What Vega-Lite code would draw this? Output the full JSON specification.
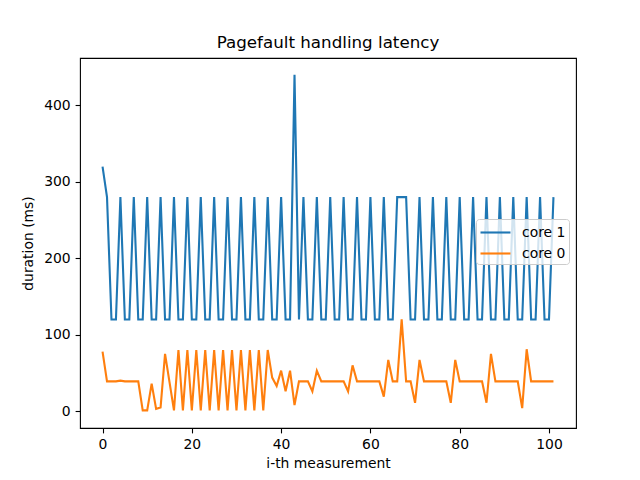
{
  "$schema": "https://vega.github.io/schema/vega-lite/v6.json",
  "description": "Pagefault handling latency per measurement, core 1 vs core 0",
  "autosize": "none",
  "width": 496,
  "height": 370,
  "padding": {"left": 80, "top": 58, "right": 64, "bottom": 52},
  "background": "white",
  "title": {
    "text": "Pagefault handling latency",
    "font": "DejaVu Sans",
    "fontSize": 16.7,
    "fontWeight": "normal",
    "color": "black",
    "anchor": "middle",
    "offset": 6
  },
  "config": {
    "view": {"stroke": "black", "strokeWidth": 1.1},
    "axis": {
      "grid": false,
      "domain": false,
      "tickColor": "black",
      "tickSize": 4.9,
      "tickWidth": 1.1,
      "labelFont": "DejaVu Sans",
      "labelFontSize": 13.9,
      "labelColor": "black",
      "labelPadding": 4.9,
      "titleFont": "DejaVu Sans",
      "titleFontSize": 13.9,
      "titleFontWeight": "normal",
      "titleColor": "black"
    }
  },
  "data": {
    "values": [
      {"i": 0, "duration": 320, "core": "core 1"},
      {"i": 1, "duration": 280, "core": "core 1"},
      {"i": 2, "duration": 120, "core": "core 1"},
      {"i": 3, "duration": 120, "core": "core 1"},
      {"i": 4, "duration": 280, "core": "core 1"},
      {"i": 5, "duration": 120, "core": "core 1"},
      {"i": 6, "duration": 120, "core": "core 1"},
      {"i": 7, "duration": 280, "core": "core 1"},
      {"i": 8, "duration": 120, "core": "core 1"},
      {"i": 9, "duration": 120, "core": "core 1"},
      {"i": 10, "duration": 280, "core": "core 1"},
      {"i": 11, "duration": 120, "core": "core 1"},
      {"i": 12, "duration": 120, "core": "core 1"},
      {"i": 13, "duration": 280, "core": "core 1"},
      {"i": 14, "duration": 120, "core": "core 1"},
      {"i": 15, "duration": 120, "core": "core 1"},
      {"i": 16, "duration": 280, "core": "core 1"},
      {"i": 17, "duration": 120, "core": "core 1"},
      {"i": 18, "duration": 120, "core": "core 1"},
      {"i": 19, "duration": 280, "core": "core 1"},
      {"i": 20, "duration": 120, "core": "core 1"},
      {"i": 21, "duration": 120, "core": "core 1"},
      {"i": 22, "duration": 280, "core": "core 1"},
      {"i": 23, "duration": 120, "core": "core 1"},
      {"i": 24, "duration": 120, "core": "core 1"},
      {"i": 25, "duration": 280, "core": "core 1"},
      {"i": 26, "duration": 120, "core": "core 1"},
      {"i": 27, "duration": 120, "core": "core 1"},
      {"i": 28, "duration": 280, "core": "core 1"},
      {"i": 29, "duration": 120, "core": "core 1"},
      {"i": 30, "duration": 120, "core": "core 1"},
      {"i": 31, "duration": 280, "core": "core 1"},
      {"i": 32, "duration": 120, "core": "core 1"},
      {"i": 33, "duration": 120, "core": "core 1"},
      {"i": 34, "duration": 280, "core": "core 1"},
      {"i": 35, "duration": 120, "core": "core 1"},
      {"i": 36, "duration": 120, "core": "core 1"},
      {"i": 37, "duration": 280, "core": "core 1"},
      {"i": 38, "duration": 120, "core": "core 1"},
      {"i": 39, "duration": 120, "core": "core 1"},
      {"i": 40, "duration": 280, "core": "core 1"},
      {"i": 41, "duration": 120, "core": "core 1"},
      {"i": 42, "duration": 120, "core": "core 1"},
      {"i": 43, "duration": 440, "core": "core 1"},
      {"i": 44, "duration": 120, "core": "core 1"},
      {"i": 45, "duration": 280, "core": "core 1"},
      {"i": 46, "duration": 120, "core": "core 1"},
      {"i": 47, "duration": 120, "core": "core 1"},
      {"i": 48, "duration": 280, "core": "core 1"},
      {"i": 49, "duration": 120, "core": "core 1"},
      {"i": 50, "duration": 120, "core": "core 1"},
      {"i": 51, "duration": 280, "core": "core 1"},
      {"i": 52, "duration": 120, "core": "core 1"},
      {"i": 53, "duration": 120, "core": "core 1"},
      {"i": 54, "duration": 280, "core": "core 1"},
      {"i": 55, "duration": 120, "core": "core 1"},
      {"i": 56, "duration": 120, "core": "core 1"},
      {"i": 57, "duration": 280, "core": "core 1"},
      {"i": 58, "duration": 120, "core": "core 1"},
      {"i": 59, "duration": 120, "core": "core 1"},
      {"i": 60, "duration": 280, "core": "core 1"},
      {"i": 61, "duration": 120, "core": "core 1"},
      {"i": 62, "duration": 120, "core": "core 1"},
      {"i": 63, "duration": 280, "core": "core 1"},
      {"i": 64, "duration": 120, "core": "core 1"},
      {"i": 65, "duration": 120, "core": "core 1"},
      {"i": 66, "duration": 280, "core": "core 1"},
      {"i": 67, "duration": 280, "core": "core 1"},
      {"i": 68, "duration": 280, "core": "core 1"},
      {"i": 69, "duration": 120, "core": "core 1"},
      {"i": 70, "duration": 120, "core": "core 1"},
      {"i": 71, "duration": 280, "core": "core 1"},
      {"i": 72, "duration": 120, "core": "core 1"},
      {"i": 73, "duration": 120, "core": "core 1"},
      {"i": 74, "duration": 280, "core": "core 1"},
      {"i": 75, "duration": 120, "core": "core 1"},
      {"i": 76, "duration": 120, "core": "core 1"},
      {"i": 77, "duration": 280, "core": "core 1"},
      {"i": 78, "duration": 120, "core": "core 1"},
      {"i": 79, "duration": 120, "core": "core 1"},
      {"i": 80, "duration": 280, "core": "core 1"},
      {"i": 81, "duration": 120, "core": "core 1"},
      {"i": 82, "duration": 120, "core": "core 1"},
      {"i": 83, "duration": 280, "core": "core 1"},
      {"i": 84, "duration": 120, "core": "core 1"},
      {"i": 85, "duration": 120, "core": "core 1"},
      {"i": 86, "duration": 280, "core": "core 1"},
      {"i": 87, "duration": 120, "core": "core 1"},
      {"i": 88, "duration": 120, "core": "core 1"},
      {"i": 89, "duration": 280, "core": "core 1"},
      {"i": 90, "duration": 120, "core": "core 1"},
      {"i": 91, "duration": 120, "core": "core 1"},
      {"i": 92, "duration": 280, "core": "core 1"},
      {"i": 93, "duration": 120, "core": "core 1"},
      {"i": 94, "duration": 120, "core": "core 1"},
      {"i": 95, "duration": 280, "core": "core 1"},
      {"i": 96, "duration": 120, "core": "core 1"},
      {"i": 97, "duration": 120, "core": "core 1"},
      {"i": 98, "duration": 280, "core": "core 1"},
      {"i": 99, "duration": 120, "core": "core 1"},
      {"i": 100, "duration": 120, "core": "core 1"},
      {"i": 101, "duration": 280, "core": "core 1"},
      {"i": 0, "duration": 78, "core": "core 0"},
      {"i": 1, "duration": 39, "core": "core 0"},
      {"i": 2, "duration": 39, "core": "core 0"},
      {"i": 3, "duration": 39, "core": "core 0"},
      {"i": 4, "duration": 40, "core": "core 0"},
      {"i": 5, "duration": 39, "core": "core 0"},
      {"i": 6, "duration": 39, "core": "core 0"},
      {"i": 7, "duration": 39, "core": "core 0"},
      {"i": 8, "duration": 39, "core": "core 0"},
      {"i": 9, "duration": 1, "core": "core 0"},
      {"i": 10, "duration": 1, "core": "core 0"},
      {"i": 11, "duration": 36, "core": "core 0"},
      {"i": 12, "duration": 3, "core": "core 0"},
      {"i": 13, "duration": 5, "core": "core 0"},
      {"i": 14, "duration": 75, "core": "core 0"},
      {"i": 15, "duration": 38, "core": "core 0"},
      {"i": 16, "duration": 1, "core": "core 0"},
      {"i": 17, "duration": 80, "core": "core 0"},
      {"i": 18, "duration": 1, "core": "core 0"},
      {"i": 19, "duration": 80, "core": "core 0"},
      {"i": 20, "duration": 1, "core": "core 0"},
      {"i": 21, "duration": 80, "core": "core 0"},
      {"i": 22, "duration": 1, "core": "core 0"},
      {"i": 23, "duration": 80, "core": "core 0"},
      {"i": 24, "duration": 1, "core": "core 0"},
      {"i": 25, "duration": 80, "core": "core 0"},
      {"i": 26, "duration": 1, "core": "core 0"},
      {"i": 27, "duration": 80, "core": "core 0"},
      {"i": 28, "duration": 1, "core": "core 0"},
      {"i": 29, "duration": 80, "core": "core 0"},
      {"i": 30, "duration": 1, "core": "core 0"},
      {"i": 31, "duration": 80, "core": "core 0"},
      {"i": 32, "duration": 1, "core": "core 0"},
      {"i": 33, "duration": 80, "core": "core 0"},
      {"i": 34, "duration": 1, "core": "core 0"},
      {"i": 35, "duration": 80, "core": "core 0"},
      {"i": 36, "duration": 1, "core": "core 0"},
      {"i": 37, "duration": 80, "core": "core 0"},
      {"i": 38, "duration": 44, "core": "core 0"},
      {"i": 39, "duration": 33, "core": "core 0"},
      {"i": 40, "duration": 53, "core": "core 0"},
      {"i": 41, "duration": 26, "core": "core 0"},
      {"i": 42, "duration": 53, "core": "core 0"},
      {"i": 43, "duration": 8, "core": "core 0"},
      {"i": 44, "duration": 39, "core": "core 0"},
      {"i": 45, "duration": 39, "core": "core 0"},
      {"i": 46, "duration": 39, "core": "core 0"},
      {"i": 47, "duration": 26, "core": "core 0"},
      {"i": 48, "duration": 53, "core": "core 0"},
      {"i": 49, "duration": 39, "core": "core 0"},
      {"i": 50, "duration": 39, "core": "core 0"},
      {"i": 51, "duration": 39, "core": "core 0"},
      {"i": 52, "duration": 39, "core": "core 0"},
      {"i": 53, "duration": 39, "core": "core 0"},
      {"i": 54, "duration": 39, "core": "core 0"},
      {"i": 55, "duration": 26, "core": "core 0"},
      {"i": 56, "duration": 60, "core": "core 0"},
      {"i": 57, "duration": 39, "core": "core 0"},
      {"i": 58, "duration": 39, "core": "core 0"},
      {"i": 59, "duration": 39, "core": "core 0"},
      {"i": 60, "duration": 39, "core": "core 0"},
      {"i": 61, "duration": 39, "core": "core 0"},
      {"i": 62, "duration": 39, "core": "core 0"},
      {"i": 63, "duration": 19, "core": "core 0"},
      {"i": 64, "duration": 67, "core": "core 0"},
      {"i": 65, "duration": 39, "core": "core 0"},
      {"i": 66, "duration": 39, "core": "core 0"},
      {"i": 67, "duration": 120, "core": "core 0"},
      {"i": 68, "duration": 39, "core": "core 0"},
      {"i": 69, "duration": 39, "core": "core 0"},
      {"i": 70, "duration": 11, "core": "core 0"},
      {"i": 71, "duration": 67, "core": "core 0"},
      {"i": 72, "duration": 39, "core": "core 0"},
      {"i": 73, "duration": 39, "core": "core 0"},
      {"i": 74, "duration": 39, "core": "core 0"},
      {"i": 75, "duration": 39, "core": "core 0"},
      {"i": 76, "duration": 39, "core": "core 0"},
      {"i": 77, "duration": 39, "core": "core 0"},
      {"i": 78, "duration": 11, "core": "core 0"},
      {"i": 79, "duration": 67, "core": "core 0"},
      {"i": 80, "duration": 39, "core": "core 0"},
      {"i": 81, "duration": 39, "core": "core 0"},
      {"i": 82, "duration": 39, "core": "core 0"},
      {"i": 83, "duration": 39, "core": "core 0"},
      {"i": 84, "duration": 39, "core": "core 0"},
      {"i": 85, "duration": 39, "core": "core 0"},
      {"i": 86, "duration": 11, "core": "core 0"},
      {"i": 87, "duration": 75, "core": "core 0"},
      {"i": 88, "duration": 39, "core": "core 0"},
      {"i": 89, "duration": 39, "core": "core 0"},
      {"i": 90, "duration": 39, "core": "core 0"},
      {"i": 91, "duration": 39, "core": "core 0"},
      {"i": 92, "duration": 39, "core": "core 0"},
      {"i": 93, "duration": 39, "core": "core 0"},
      {"i": 94, "duration": 4, "core": "core 0"},
      {"i": 95, "duration": 81, "core": "core 0"},
      {"i": 96, "duration": 39, "core": "core 0"},
      {"i": 97, "duration": 39, "core": "core 0"},
      {"i": 98, "duration": 39, "core": "core 0"},
      {"i": 99, "duration": 39, "core": "core 0"},
      {"i": 100, "duration": 39, "core": "core 0"},
      {"i": 101, "duration": 39, "core": "core 0"}
    ]
  },
  "mark": {"type": "line", "strokeWidth": 2.1, "clip": true},
  "encoding": {
    "x": {
      "field": "i",
      "type": "quantitative",
      "title": "i-th measurement",
      "scale": {"domain": [-5.05, 106.05], "nice": false, "zero": false},
      "axis": {"values": [0, 20, 40, 60, 80, 100], "titlePadding": 5}
    },
    "y": {
      "field": "duration",
      "type": "quantitative",
      "title": "duration (ms)",
      "scale": {"domain": [-22, 462], "nice": false, "zero": false},
      "axis": {"values": [0, 100, 200, 300, 400], "titlePadding": 8}
    },
    "color": {
      "field": "core",
      "type": "nominal",
      "sort": ["core 1", "core 0"],
      "scale": {"domain": ["core 1", "core 0"], "range": ["#1f77b4", "#ff7f0e"]},
      "legend": {
        "title": null,
        "orient": "none",
        "legendX": 396,
        "legendY": 161,
        "direction": "vertical",
        "symbolType": "M-1,0L2.33,0",
        "symbolStrokeWidth": 2.1,
        "symbolSize": 324,
        "labelFont": "DejaVu Sans",
        "labelFontSize": 13.9,
        "labelColor": "black",
        "labelOffset": 22,
        "rowPadding": 3,
        "padding": 3,
        "fillColor": "rgba(255,255,255,0.8)",
        "strokeColor": "#cccccc",
        "cornerRadius": 3
      }
    }
  }
}
